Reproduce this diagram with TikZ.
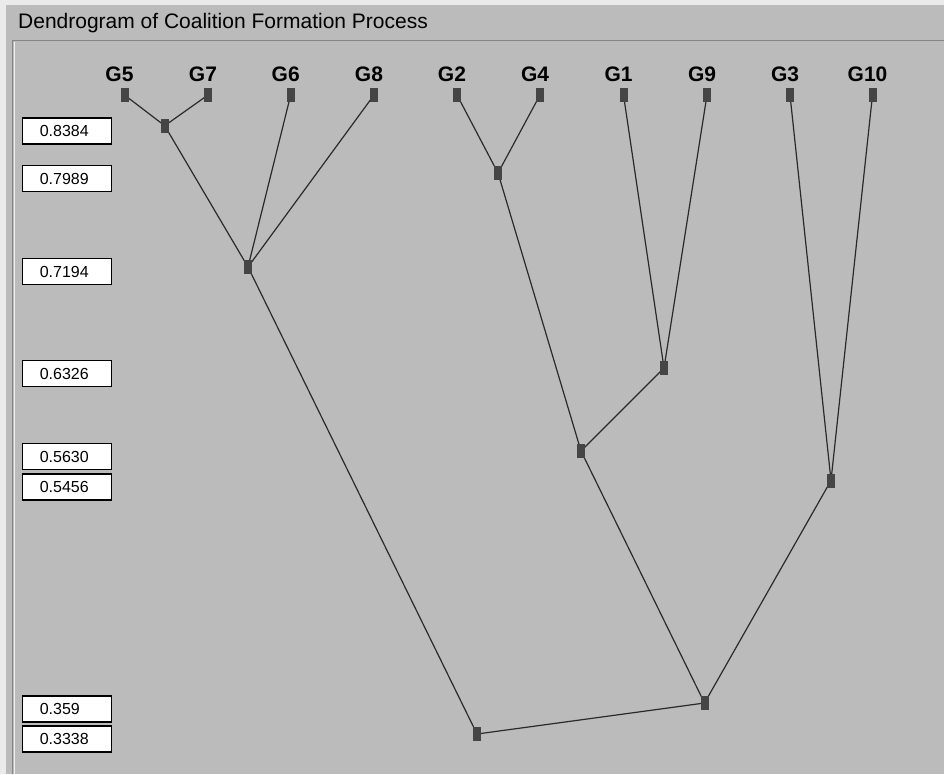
\documentclass[tikz,border=0pt]{standalone}
\usepackage{fontspec}
\setmainfont{Liberation Sans}
\usetikzlibrary{backgrounds}
\definecolor{panelgray}{HTML}{BBBBBB}
\definecolor{edgegray}{HTML}{EAEAEA}
\definecolor{framegray}{HTML}{858585}
\definecolor{linkcol}{HTML}{2A2A2A}
\definecolor{sqcol}{HTML}{454545}
\tikzset{
  sq/.style={rectangle, fill=sqcol, draw=none, minimum width=8pt, minimum height=14pt, inner sep=0pt},
  leaflabel/.style={anchor=base, font=\fontsize{21}{23}\selectfont\bfseries, inner sep=0pt},
  valbox/.style={rectangle, draw=black, fill=white, line width=1.3pt, minimum height=26pt,
    text width=55pt, align=left, inner xsep=17pt, inner ysep=0pt,
    font=\fontsize{16}{17}\selectfont},
  link/.style={draw=linkcol, line width=1.2pt},
}
\begin{document}
\begin{tikzpicture}[x=1pt,y=-1pt]
\useasboundingbox (0,0) rectangle (944,774);
% leaves
\foreach \n/\x in {G5/124.5,G7/208,G6/290.7,G8/374,G2/457,G4/540,G1/623.5,G9/707,G3/790,G10/872.5}{
  \node[sq] (\n) at (\x,95) {};
  \node[leaflabel] (L\n) at (\x-5,81.5) {\n};
}
% internal nodes
\node[sq] (n57) at (164.7,125.7) {};
\node[sq] (n24) at (498,173) {};
\node[sq] (n5768) at (248,267) {};
\node[sq] (n19) at (664,368) {};
\node[sq] (n2419) at (581,451) {};
\node[sq] (n310) at (831,480.5) {};
\node[sq] (nright) at (704.5,703) {};
\node[sq] (root) at (477,734) {};
% value boxes
\node[valbox] (v1) at (67.3,131) {0.8384};
\node[valbox] (v2) at (67.3,178.5) {0.7989};
\node[valbox] (v3) at (67.3,271.5) {0.7194};
\node[valbox] (v4) at (67.3,373.5) {0.6326};
\node[valbox] (v5) at (67.3,456.5) {0.5630};
\node[valbox] (v6) at (67.3,487) {0.5456};
\node[valbox] (v7) at (67.3,709) {0.359};
\node[valbox] (v8) at (67.3,739) {0.3338};
% title
\node[anchor=base west, inner sep=0pt, font=\fontsize{21}{24}\selectfont] (title) at (18,28) {Dendrogram of Coalition Formation Process};
\begin{pgfonlayer}{background}
  \fill[edgegray] (0,0) rectangle (944,774);
  \fill[panelgray] (6,5) rectangle (944,774);
  \draw[framegray, line width=1.6pt] (12.5,774) -- (12.5,40.5) -- (944,40.5);
  \draw[white!80!panelgray, line width=0.8pt] (14.5,774) -- (14.5,42);
  \draw[link] (G5.center) -- (n57.center) -- (G7.center);
  \draw[link] (n57.center) -- (n5768.center);
  \draw[link] (G6.center) -- (n5768.center) -- (G8.center);
  \draw[link] (G2.center) -- (n24.center) -- (G4.center);
  \draw[link] (G1.center) -- (n19.center) -- (G9.center);
  \draw[link] (n24.center) -- (n2419.center) -- (n19.center);
  \draw[link] (G3.center) -- (n310.center) -- (G10.center);
  \draw[link] (n2419.center) -- (nright.center) -- (n310.center);
  \draw[link] (n5768.center) -- (root.center) -- (nright.center);
\end{pgfonlayer}
\end{tikzpicture}
\end{document}
